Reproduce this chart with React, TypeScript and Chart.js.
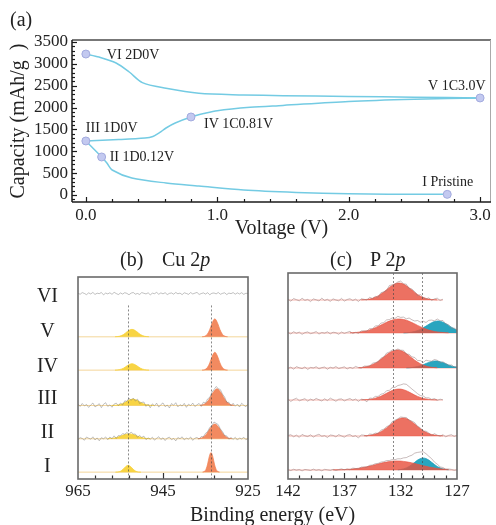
import { useEffect, useRef } from "react";
import { Chart, registerables } from "chart.js";

Chart.register(...registerables);

const SERIF = "'Liberation Serif', 'Times New Roman', Times, serif";
const INK = "#222";

/* ---------- (a) capacity against voltage ---------- */
const firstDischarge: [number, number][] = [
  [2.75, 15], [2.3, 20], [2.0, 28], [1.6, 60], [1.2, 115], [0.86, 206], [0.61, 275],
  [0.35, 389], [0.2, 572], [0.16, 732], [0.12, 870], [0, 1236],
];
const firstCharge: [number, number][] = [
  [0, 1236], [0.25, 1268], [0.45, 1305], [0.51, 1340], [0.56, 1425], [0.61, 1533], [0.68, 1647],
  [0.8, 1785], [0.9, 1865], [1.0, 1930], [1.25, 2005], [1.5, 2050], [2.0, 2140], [2.5, 2190], [3.0, 2220],
];
const secondDischarge: [number, number][] = [
  [3.0, 2220], [2.5, 2238], [2.0, 2255], [1.5, 2272], [1.2, 2290], [0.86, 2326], [0.61, 2441],
  [0.43, 2570], [0.33, 2814], [0.23, 3020], [0.1, 3157], [0, 3225],
];
const stateNames = ["I Pristine", "II 1D0.12V", "III 1D0V", "IV 1C0.81V", "V 1C3.0V", "VI 2D0V"];
const stateVoltage = [2.75, 0.12, 0, 0.8, 3.0, 0];
const stateCapacity = [15, 870, 1236, 1785, 2220, 3225];
const voltageTicks = [0, 1, 2, 3];
const capacityTicks = [0, 500, 1000, 1500, 2000, 2500, 3000, 3500];

/* ---------- (b) Cu 2p spectra, stacked with offsets (a.u.) ---------- */
const cuRowNames = ["VI", "V", "IV", "III", "II", "I"];
const cuOffset = [189, 145, 111, 75, 41, 7];
const cuEnergyTicks = [965, 945, 925];
const cuGuides = [953.2, 933.7];
const CU_START = 965;
const CU_STEP = 0.5;
const cuRawVI = [
  0.4, -0.6, 1.1, 0.2, -1.0, 0.8, -0.3, 1.3, -0.8, 0.5, 0.0, 1.2, -1.2, 0.6, -0.2, 0.9, -0.7, 1.4, 0.1, -0.9,
  0.7, -0.4, 1.0, 0.3, -1.1, 0.6, 1.2, -0.5, 0.2, -0.8, 1.1, 0.4, -0.3, 0.9, -1.2, 0.5, 0.0, 1.3, -0.6, 0.8,
  -0.2, 1.0, -0.9, 0.3, 0.7, -0.5, 1.2, -0.1, 0.6, -1.0, 0.9, 0.2, -0.7, 1.1, -0.3, 0.5, 1.3, -0.8, 0.1, 0.8,
  -0.4, 1.0, -1.1, 0.4, 0.7, -0.2, 1.2, -0.6, 0.3, 0.9, -0.9, 0.6, 0.0, 1.1, -0.5, 0.8, -0.3, 1.0, -0.7, 0.4, 0.2,
];
const cuRawIII = [
  1.5, -1.0, 2.0, -0.5, 1.0, -2.0, 0.5, 2.5, -1.5, 0.0, 1.8, -2.2, 1.2, 2.8, -1.0, 0.6, -1.8, 1.4, 2.4, -0.3,
  2.5, 0.5, 4.7, 4.2, 7.4, 5.2, 7.5, 4.5, 6.4, 2.0, 3.1, 3.5, -0.9, 1.3, -2.3, 1.6, -0.4, 2.3, -1.7, 0.9,
  2.6, -1.2, 0.4, -2.5, 1.9, 0.2, 2.8, -1.4, 0.8, -0.6, 2.1, -1.9, 1.3, -0.2, 2.4, -1.1, 0.7, 2.0, -1.0, 3.3,
  2.4, 6.7, 8.2, 13.3, 16.1, 19.3, 17.2, 16.1, 11.5, 8.6, 3.2, 3.2, -0.5, 2.2, -0.8, 1.4, -1.6, 2.2, 0.3, -1.3, 1.7,
];
const cuRawII = [
  -0.8, 1.2, 0.3, -1.5, 1.8, 0.6, -0.4, 2.0, -1.2, 0.9, -2.0, 1.1, 0.0, 1.9, -0.9, 1.8, 0.1, 3.0, 0.3, 3.3,
  2.9, 5.3, 4.6, 6.5, 4.6, 6.9, 4.8, 4.8, 1.6, 3.4, 1.4, 2.7, -0.9, 1.0, -0.4, 1.6, -1.4, 0.5, 2.1, -0.7,
  1.0, -1.8, 0.8, 1.7, -0.9, 0.4, -2.1, 1.3, 0.1, 2.0, -1.1, 0.7, -0.3, 1.8, -1.6, 0.6, 1.4, -0.5, 2.3, 2.1,
  5.6, 7.3, 11.6, 13.7, 17.1, 15.8, 14.4, 10.0, 7.3, 3.4, 2.9, -0.4, 1.3, -0.6, 1.5, -1.3, 0.9, -0.2, 1.6, -0.9, 0.4,
];
// fitted Cu 2p1/2 components
const cuHalfE_V = [956.3, 955.3, 954.3, 953.3, 952.3, 951.3, 950.3, 949.3, 948.3];
const cuHalfI_V = [0.1, 0.5, 2.3, 5.7, 7.6, 5.7, 2.3, 0.5, 0.1];
const cuHalfE_IV = [956.3, 955.3, 954.3, 953.3, 952.3, 951.3, 950.3, 949.3, 948.3];
const cuHalfI_IV = [0.1, 0.5, 2.0, 4.9, 6.6, 4.9, 2.0, 0.5, 0.1];
const cuHalfE_III = [957.1, 956.1, 955.1, 954.1, 953.1, 952.1, 951.1, 950.1, 949.1, 948.1, 947.1];
const cuHalfI_III = [0, 0.2, 0.9, 2.7, 5.2, 6.5, 5.2, 2.7, 0.9, 0.2, 0];
const cuHalfE_II = [958, 957, 956, 955, 954, 953, 952, 951, 950, 949, 948];
const cuHalfI_II = [0.1, 0.4, 1.2, 2.7, 4.3, 5.0, 4.3, 2.7, 1.2, 0.4, 0.1];
const cuHalfE_I = [956.2, 955.6, 955.0, 954.4, 953.8, 953.2, 952.6, 952.0, 951.4, 950.8, 950.2];
const cuHalfI_I = [0.03, 0.2, 0.95, 2.9, 5.6, 7.0, 5.6, 2.9, 0.95, 0.2, 0.03];
// fitted Cu 2p3/2 components
const cuMainE_V = [935.8, 935.2, 934.6, 934.0, 933.4, 932.8, 932.2, 931.6, 931.0, 930.4, 929.8];
const cuMainI_V = [0.1, 0.5, 2.4, 7.4, 14.4, 18.3, 14.4, 7.4, 2.4, 0.5, 0.1];
const cuMainE_IV = [935.8, 935.2, 934.6, 934.0, 933.4, 932.8, 932.2, 931.6, 931.0, 930.4, 929.8];
const cuMainI_IV = [0.1, 0.5, 2.4, 7.4, 14.4, 18.3, 14.4, 7.4, 2.4, 0.5, 0.1];
const cuMainE_III = [936.3, 935.3, 934.3, 933.3, 932.3, 931.3, 930.3, 929.3, 928.3];
const cuMainI_III = [0.15, 1.2, 5.2, 12.6, 17.0, 12.6, 5.2, 1.2, 0.15];
const cuMainE_II = [936.8, 935.8, 934.8, 933.8, 932.8, 931.8, 930.8, 929.8, 928.8];
const cuMainI_II = [0.13, 1.0, 4.6, 11.2, 15.0, 11.2, 4.6, 1.0, 0.13];
const cuMainE_I = [935.7, 935.3, 934.9, 934.5, 934.1, 933.7, 933.3, 932.9, 932.5, 932.1, 931.7];
const cuMainI_I = [0.1, 0.6, 2.7, 8.2, 16.0, 20.0, 16.0, 8.2, 2.7, 0.6, 0.1];

/* ---------- (c) P 2p spectra, stacked with offsets (a.u.) ---------- */
const pRowNames = ["VI", "V", "IV", "III", "II", "I"];
const pOffset = [179, 146, 111, 79, 43, 9];
const pEnergyTicks = [142, 137, 132, 127];
const pGuides = [132.7, 130.1];
const P_START = 142;
const P_STEP = 0.25;
// residual of the measured curve around the fitted envelope
const pResidVI = [
  0.8, -1.2, 1.5, 0.3, -0.9, 1.8, -0.4, 0.6, -1.6, 1.1, 0.2, -1.0, 1.9, -0.5, 0.7, -1.4, 1.2, 0.0, -0.8, 1.6,
  -1.1, 0.5, 1.3, -0.6, 0.9, -1.5, 1.0, 0.4, -0.7, 1.7, -0.2, 0.8, -1.3, 1.4, 0.1, -0.9, 1.9, 0.6, -0.4, 1.2,
  2.1, 0.3, 1.5, -0.8, 1.1, 0.7, -1.2, 1.6, 0.2, -0.6, 1.3, -1.0, 0.9, 1.7, -0.5, 0.8,
];
const pResidV = [
  0.6, -1.0, 1.3, -0.3, 0.9, -1.4, 0.4, 1.1, -0.7, 0.2, 1.5, -1.1, 0.5, -0.2, 1.2, -0.9, 0.8, 0.3, -1.3, 1.0,
  -0.4, 0.7, 1.4, -0.8, 0.2, -1.2, 0.9, 0.5, -0.6, 1.3, 0.1, 1.8, 0.6, 2.0, 1.1, 2.4, 1.5, 2.2, 1.0, 2.6,
  1.7, 2.3, 1.2, 2.8, 1.9, 1.4, 2.5, 0.9, 1.6, -0.3, 1.1, 0.4, -0.8, 0.9, -0.2, 1.2, -0.6, 0.5, -1.0, 0.7, 0.2,
];
const pResidIV = [
  -0.5, 0.9, -1.2, 1.4, 0.2, -0.7, 1.1, -1.5, 0.6, 0.0, 1.3, -0.9, 0.4, 1.0, -1.3, 0.8, -0.2, 1.5, -0.6, 0.3,
  1.2, -1.0, 0.7, -0.4, 1.6, 0.1, -0.8, 1.0, 0.5, -0.3, 1.4, 0.6, -0.5, 1.1, 0.3, 1.7, 0.8, 1.3, -0.2, 1.0,
  0.4, 1.5, -0.6, 1.2, 0.7, 1.8, 0.2, 0.9, -0.7, 1.4, 0.3, -0.4, 1.1, 0.6, -0.9, 0.8, 0.2, -0.5, 1.0, -0.3, 0.4,
];
const pResidIII = [
  1.0, -1.5, 0.6, 1.8, -0.8, 0.3, 1.4, -1.2, 0.9, -0.4, 1.6, 0.2, -1.0, 1.2, -0.6, 1.9, 0.4, -1.3, 0.8, 1.1,
  -0.9, 0.5, 1.5, -0.3, 1.0, -1.4, 0.7, 0.2, -2.2, 1.3, 0.5, 1.8, 0.9, 2.0, 1.2, 2.6, 1.5, 2.9, 2.1, 3.6,
  4.2, 5.8, 6.4, 5.5, 4.6, 3.8, 2.7, 1.9, 2.4, 1.1, 1.6, 0.3, 1.2, -0.4, 0.8, 0.2,
];
const pResidII = [
  0.5, 1.3, -0.8, 0.9, -1.4, 1.6, 0.2, -0.6, 1.2, -1.1, 0.7, 1.8, -0.3, 0.4, -1.5, 1.0, 0.6, -0.9, 1.4, 0.1,
  -1.2, 0.8, 1.5, -0.5, 0.3, -2.0, 1.1, 0.6, -0.7, 1.3, 0.4, 1.0, -0.4, 1.5, 0.8, 1.2, 0.2, 1.6, 0.9, 0.5,
  1.3, 0.6, 1.1, -0.3, 0.8, 1.4, 0.2, 0.9, -0.6, 1.2, 0.5, -1.0, 1.4, 0.3, -0.5, 1.1, -0.8, 0.6, 1.3, -0.4, 0.7,
];
const pResidI = [
  0.3, -0.6, 0.8, -0.2, 0.5, -0.9, 0.6, 0.1, -0.5, 0.9, -0.3, 0.4, -0.8, 0.7, 0.2, -0.4, 0.6, -0.7, 0.3, 0.8,
  -0.2, 0.5, -0.6, 0.9, 0.1, -0.4, 0.7, 0.3, -0.5, 0.8, 0.4, 1.0, 0.6, 1.2, 0.9, 1.5, 1.1, 1.6, 1.4, 2.0,
  1.8, 2.4, 2.1, 2.6, 2.2, 2.7, 2.0, 1.6, 1.9, 1.2, 0.8, 1.1, 0.4, 0.7, -0.2, 0.5, -0.4, 0.3, 0.6, -0.3, 0.2,
];
// fitted components: first energy (eV) and intensities on the 0.25 eV grid
const pRedStart = [135.5, 136.5, 135.75, 135.5, 135.25, 138.0];
const pRedVI = [0.2, 0.3, 0.6, 1.0, 1.7, 2.8, 4.1, 5.9, 8.0, 10.3, 12.6, 14.6, 16.2, 16.9, 16.8, 15.9, 14.3, 12.2, 9.9, 7.6, 5.5, 3.8, 2.5, 1.6, 0.9, 0.5, 0.3, 0.1];
const pRedV = [0.2, 0.3, 0.5, 0.8, 1.2, 1.7, 2.3, 3.1, 4.1, 5.3, 6.6, 7.9, 9.3, 10.7, 11.9, 12.9, 13.6, 14.0, 13.9, 13.5, 12.8, 11.7, 10.4, 9.1, 7.6, 6.3, 5.0, 3.9, 2.9, 2.2, 1.5, 1.1, 0.7, 0.5, 0.3, 0.2];
const pRedIV = [0.3, 0.5, 0.9, 1.4, 2.2, 3.4, 4.8, 6.6, 8.7, 10.9, 13.2, 15.2, 16.8, 17.7, 18.0, 17.4, 16.2, 14.4, 12.3, 10.0, 7.8, 5.9, 4.2, 2.9, 1.9, 1.2, 0.7, 0.4, 0.2];
const pRedIII = [0.1, 0.2, 0.4, 0.7, 1.1, 1.8, 2.7, 3.8, 5.2, 6.7, 8.2, 9.5, 10.5, 10.9, 10.9, 10.3, 9.3, 7.9, 6.4, 4.9, 3.6, 2.5, 1.6, 1.0, 0.6, 0.3, 0.2, 0.1];
const pRedII = [0.2, 0.4, 0.7, 1.2, 1.9, 2.9, 4.3, 6.0, 8.1, 10.4, 12.8, 15.0, 16.7, 17.7, 18.0, 17.4, 16.1, 14.1, 11.9, 9.5, 7.3, 5.3, 3.7, 2.4, 1.5, 0.9, 0.5, 0.3, 0.2];
const pRedI = [0.1, 0.2, 0.2, 0.3, 0.4, 0.6, 0.8, 1.0, 1.4, 1.7, 2.2, 2.7, 3.3, 3.9, 4.6, 5.3, 6.0, 6.7, 7.4, 7.9, 8.4, 8.8, 9.0, 9.0, 8.9, 8.6, 8.2, 7.7, 7.1, 6.5, 5.7, 5.0, 4.3, 3.7, 3.0, 2.5, 2.0, 1.6, 1.2, 0.9, 0.7, 0.5];
const pBlueStartV = 131.75;
const pBlueV = [0.1, 0.2, 0.5, 0.9, 1.5, 2.4, 3.6, 5.2, 6.9, 8.7, 10.3, 11.5, 12.0, 11.8, 10.8, 9.4, 7.6, 5.8, 4.2, 2.8];
const pBlueStartIV = 131.5;
const pBlueIV = [0.1, 0.2, 0.5, 0.9, 1.4, 2.3, 3.3, 4.5, 5.6, 6.5, 7.0, 6.9, 6.3, 5.4, 4.3, 3.1, 2.1, 1.3, 0.8];
const pBlueStartI = 132.25;
const pBlueI = [0.2, 0.5, 1.1, 2.1, 3.5, 5.5, 7.7, 9.9, 11.4, 12.0, 11.4, 9.9, 7.7, 5.5, 3.5, 2.1, 1.1, 0.5, 0.2];

/* ---------- styling ---------- */
const CAP_LINE = "#74cbe3";
const CU_YELLOW = "rgba(247, 208, 52, 0.92)";
const CU_ORANGE = "rgba(241, 128, 82, 0.92)";
const CU_BASE = "rgba(240, 200, 120, 0.75)";
const P_RED = "rgba(232, 82, 64, 0.82)";
const P_BLUE = "rgba(30, 160, 188, 0.95)";
const P_BASE = "rgba(238, 130, 118, 0.6)";
const RAW = "rgba(125, 125, 125, 0.6)";
const P_RAW = "rgba(150, 125, 125, 0.65)";
const STATE_LABEL_SHIFT: [number, number][] = [[-25, -8], [8, 4], [0, -9], [13, 11], [-52, -8], [21, 5]];
const CU_LABEL_AT = [186, 150, 114, 82, 47, 12];

type Pt = { x: number; y: number };
const toPts = (p: [number, number][]): Pt[] => p.map(([x, y]) => ({ x, y }));

function fixedTicks(values: number[]) {
  return (scale: any) => {
    scale.ticks = values.map((value) => ({ value }));
  };
}

function hLine(ctx: CanvasRenderingContext2D, x1: number, y1: number, x2: number, y2: number) {
  ctx.beginPath();
  ctx.moveTo(x1, y1);
  ctx.lineTo(x2, y2);
  ctx.stroke();
}

/* ---------- (a) chart ---------- */
function makeCapacityChart(canvas: HTMLCanvasElement) {
  const frame = {
    id: "capacityFrame",
    afterDatasetsDraw(chart: any) {
      const { ctx, chartArea: a, scales } = chart;
      const xs = scales.x;
      const ys = scales.y;
      ctx.save();
      // top and right border
      ctx.strokeStyle = "#777";
      ctx.lineWidth = 2;
      hLine(ctx, a.left, a.top, a.right, a.top);
      ctx.strokeStyle = "#aaa";
      ctx.lineWidth = 1;
      hLine(ctx, a.right - 0.5, a.top, a.right - 0.5, a.bottom);
      // axes
      ctx.strokeStyle = "#1a1a1a";
      ctx.lineWidth = 1.5;
      hLine(ctx, a.left, a.top, a.left, a.bottom);
      hLine(ctx, a.left, a.bottom, a.right, a.bottom);
      // inward ticks
      ctx.lineWidth = 1.2;
      for (let k = 0; k <= 15; k++) {
        const v = k * 0.2;
        const major = k % 5 === 0;
        const px = Math.round(xs.getPixelForValue(v)) + 0.5;
        hLine(ctx, px, a.bottom, px, a.bottom - (major ? 5 : 3));
      }
      for (let k = -1; k <= 35; k++) {
        const v = k * 100;
        const major = k % 5 === 0;
        const py = Math.round(ys.getPixelForValue(v)) + 0.5;
        hLine(ctx, a.left, py, a.left + (major ? 5 : 3), py);
      }
      // state labels
      ctx.fillStyle = INK;
      ctx.font = `14px ${SERIF}`;
      ctx.textAlign = "left";
      ctx.textBaseline = "alphabetic";
      stateNames.forEach((name, i) => {
        const px = xs.getPixelForValue(stateVoltage[i]);
        const py = ys.getPixelForValue(stateCapacity[i]);
        ctx.fillText(name, px + STATE_LABEL_SHIFT[i][0], py + STATE_LABEL_SHIFT[i][1]);
      });
      ctx.restore();
    },
  };

  const curve = (pts: [number, number][]) => ({
    data: toPts(pts),
    borderColor: CAP_LINE,
    borderWidth: 1.5,
    pointRadius: 0,
    tension: 0.3,
    fill: false,
    order: 2,
  });

  return new Chart(canvas, {
    type: "line",
    data: {
      datasets: [
        curve(firstDischarge),
        curve(firstCharge),
        curve(secondDischarge),
        {
          data: stateVoltage.map((x, i) => ({ x, y: stateCapacity[i] })),
          showLine: false,
          pointRadius: 4,
          pointBackgroundColor: "#c3c9f0",
          pointBorderColor: "#a2aade",
          pointBorderWidth: 1,
          order: 1,
        } as any,
      ],
    },
    options: {
      animation: false,
      responsive: false,
      events: [],
      layout: { padding: { top: 40, right: 1, left: 0, bottom: 0 } },
      plugins: { legend: { display: false }, tooltip: { enabled: false } },
      scales: {
        x: {
          type: "linear",
          min: -0.1055,
          max: 3.083,
          afterBuildTicks: fixedTicks(voltageTicks),
          afterFit: (s: any) => {
            s.height = 48;
          },
          grid: { display: false, drawTicks: false },
          border: { display: false },
          ticks: {
            autoSkip: false,
            maxRotation: 0,
            padding: 3,
            color: INK,
            font: { family: SERIF, size: 17 },
            callback: (v: any) => Number(v).toFixed(1),
          },
          title: {
            display: true,
            text: "Voltage (V)",
            color: INK,
            font: { family: SERIF, size: 20 },
            padding: { top: 0, bottom: 9 },
          },
        },
        y: {
          type: "linear",
          min: -160,
          max: 3546,
          afterBuildTicks: fixedTicks(capacityTicks),
          afterFit: (s: any) => {
            s.width = 72;
          },
          grid: { display: false, drawTicks: false },
          border: { display: false },
          ticks: {
            autoSkip: false,
            padding: 4,
            color: INK,
            font: { family: SERIF, size: 17 },
            callback: (v: any) => String(v),
          },
          title: {
            display: true,
            text: "Capacity (mAh/g  )",
            color: INK,
            font: { family: SERIF, size: 20 },
            padding: { top: 7, bottom: 0 },
          },
        },
      },
    } as any,
    plugins: [frame],
  });
}

/* ---------- shared frame for the spectra panels ---------- */
function spectrumFrame(id: string, majors: number[], lo: number, hi: number, step: number, guides: number[], guideTop: number | null) {
  return {
    id,
    afterDatasetsDraw(chart: any) {
      const { ctx, chartArea: a, scales } = chart;
      const xs = scales.x;
      const ys = scales.y;
      ctx.save();
      ctx.strokeStyle = "rgba(70, 70, 70, 0.8)";
      ctx.lineWidth = 0.8;
      ctx.setLineDash([2, 2]);
      const top = guideTop == null ? a.top : ys.getPixelForValue(guideTop);
      guides.forEach((g) => {
        const px = Math.round(xs.getPixelForValue(g)) + 0.5;
        hLine(ctx, px, top, px, a.bottom);
      });
      ctx.setLineDash([]);
      ctx.strokeStyle = "#333";
      ctx.lineWidth = 1.2;
      const n = Math.round((hi - lo) / step);
      for (let k = 1; k < n; k++) {
        const v = lo + k * step;
        const major = majors.some((m) => Math.abs(m - v) < 1e-6);
        const px = Math.round(xs.getPixelForValue(v)) + 0.5;
        hLine(ctx, px, a.bottom, px, a.bottom - (major ? 6 : 3.5));
      }
      ctx.strokeStyle = "#6a6a6a";
      ctx.lineWidth = 1.6;
      ctx.strokeRect(a.left, a.top, a.width, a.height);
      ctx.restore();
    },
  };
}

function fillDataset(pts: Pt[], base: number, color: string, order: number) {
  return {
    data: pts,
    borderColor: color,
    backgroundColor: color,
    borderWidth: 0.8,
    pointRadius: 0,
    tension: 0.35,
    fill: { value: base },
    order,
  };
}

function lineDataset(pts: Pt[], color: string, width: number, order: number) {
  return {
    data: pts,
    borderColor: color,
    borderWidth: width,
    pointRadius: 0,
    tension: 0,
    fill: false,
    order,
  };
}

function spectrumOptions(lo: number, hi: number, ticks: number[], padding: any, yAxis: any) {
  return {
    animation: false,
    responsive: false,
    events: [],
    layout: { padding },
    plugins: { legend: { display: false }, tooltip: { enabled: false } },
    scales: {
      x: {
        type: "linear",
        min: lo,
        max: hi,
        reverse: true,
        afterBuildTicks: fixedTicks(ticks),
        afterFit: (s: any) => {
          s.height = 46;
        },
        grid: { display: false, drawTicks: false },
        border: { display: false },
        ticks: {
          autoSkip: false,
          maxRotation: 0,
          padding: 2,
          color: INK,
          font: { family: SERIF, size: 17 },
          callback: (v: any) => String(v),
        },
      },
      y: yAxis,
    },
  } as any;
}

/* ---------- (b) chart ---------- */
function makeCuChart(canvas: HTMLCanvasElement) {
  const gridPts = (vals: number[], base: number): Pt[] =>
    vals.map((v, i) => ({ x: CU_START - CU_STEP * i, y: base + v }));
  const fitPts = (e: number[], v: number[], base: number): Pt[] => e.map((x, i) => ({ x, y: base + v[i] }));

  const halfFits = [null, [cuHalfE_V, cuHalfI_V], [cuHalfE_IV, cuHalfI_IV], [cuHalfE_III, cuHalfI_III], [cuHalfE_II, cuHalfI_II], [cuHalfE_I, cuHalfI_I]];
  const mainFits = [null, [cuMainE_V, cuMainI_V], [cuMainE_IV, cuMainI_IV], [cuMainE_III, cuMainI_III], [cuMainE_II, cuMainI_II], [cuMainE_I, cuMainI_I]];
  const raws: (number[] | null)[] = [cuRawVI, null, null, cuRawIII, cuRawII, null];

  const datasets: any[] = [];
  cuRowNames.forEach((_, r) => {
    const base = cuOffset[r];
    if (r > 0) {
      datasets.push(lineDataset([{ x: 965, y: base }, { x: 925, y: base }], CU_BASE, 1, 5));
    }
    const h = halfFits[r];
    if (h) datasets.push(fillDataset(fitPts(h[0], h[1], base), base, CU_YELLOW, 3));
    const m = mainFits[r];
    if (m) datasets.push(fillDataset(fitPts(m[0], m[1], base), base, CU_ORANGE, 3));
    const raw = raws[r];
    if (raw) datasets.push(lineDataset(gridPts(raw, base), RAW, 0.8, 1));
  });

  const yAxis = {
    type: "linear",
    min: 0,
    max: 206,
    afterBuildTicks: fixedTicks(CU_LABEL_AT),
    afterFit: (s: any) => {
      s.width = 78;
    },
    grid: { display: false, drawTicks: false },
    border: { display: false },
    ticks: {
      autoSkip: false,
      crossAlign: "center",
      padding: 20,
      color: INK,
      font: { family: SERIF, size: 20 },
      callback: (_v: any, i: number) => cuRowNames[i],
    },
  };

  return new Chart(canvas, {
    type: "line",
    data: { datasets },
    options: spectrumOptions(925, 965, cuEnergyTicks, { top: 28, right: 22, left: 0, bottom: 0 }, yAxis),
    plugins: [spectrumFrame("cuFrame", cuEnergyTicks, 925, 965, 4, cuGuides, 177)],
  });
}

/* ---------- (c) chart ---------- */
function makePChart(canvas: HTMLCanvasElement) {
  const resids = [pResidVI, pResidV, pResidIV, pResidIII, pResidII, pResidI];
  const reds = [pRedVI, pRedV, pRedIV, pRedIII, pRedII, pRedI];
  const blues: ([number, number[]] | null)[] = [null, [pBlueStartV, pBlueV], [pBlueStartIV, pBlueIV], null, null, [pBlueStartI, pBlueI]];

  const compPts = (start: number, vals: number[], base: number): Pt[] =>
    vals.map((v, i) => ({ x: start - P_STEP * i, y: base + v }));

  const datasets: any[] = [];
  pRowNames.forEach((_, r) => {
    const base = pOffset[r];
    const comps: [number, number[]][] = [[pRedStart[r], reds[r]]];
    const b = blues[r];
    if (b) comps.push(b);
    // measured curve = fitted envelope + residual
    const measured = resids[r].map((res, i) => {
      const e = P_START - P_STEP * i;
      let s = res;
      comps.forEach(([start, vals]) => {
        const k = Math.round((start - e) / P_STEP);
        if (k >= 0 && k < vals.length) s += vals[k];
      });
      return { x: e, y: base + s };
    });
    const lastE = measured[measured.length - 1].x;
    datasets.push(lineDataset([{ x: P_START, y: base }, { x: lastE, y: base }], P_BASE, 1, 6));
    if (b) datasets.push(fillDataset(compPts(b[0], b[1], base), base, P_BLUE, 4));
    datasets.push(fillDataset(compPts(pRedStart[r], reds[r], base), base, P_RED, 3));
    datasets.push(lineDataset(measured, P_RAW, 0.8, 1));
  });

  const yAxis = { type: "linear", min: 0, max: 206, display: false };

  return new Chart(canvas, {
    type: "line",
    data: { datasets },
    options: spectrumOptions(127, 142, pEnergyTicks, { top: 28, right: 39, left: 26, bottom: 0 }, yAxis),
    plugins: [spectrumFrame("pFrame", pEnergyTicks, 127, 142, 1, pGuides, null)],
  });
}

const textStyle = (left: number, top: number): any => ({
  position: "absolute",
  left,
  top,
  fontSize: 20,
  lineHeight: "20px",
  whiteSpace: "pre",
  fontFamily: SERIF,
  color: INK,
});

export default function App() {
  const aRef = useRef<HTMLCanvasElement>(null);
  const bRef = useRef<HTMLCanvasElement>(null);
  const cRef = useRef<HTMLCanvasElement>(null);

  useEffect(() => {
    const charts = [
      makeCapacityChart(aRef.current!),
      makeCuChart(bRef.current!),
      makePChart(cRef.current!),
    ];
    return () => charts.forEach((c) => c.destroy());
  }, []);

  return (
    <div style={{ position: "absolute", left: 0, top: 0, width: 496, height: 525, background: "#fff", overflow: "hidden" }}>
      <canvas ref={aRef} width={496} height={250} style={{ position: "absolute", left: 0, top: 0, width: 496, height: 250 }} />
      <canvas ref={bRef} width={270} height={280} style={{ position: "absolute", left: 0, top: 245, width: 270, height: 280 }} />
      <canvas ref={cRef} width={234} height={280} style={{ position: "absolute", left: 262, top: 245, width: 234, height: 280 }} />
      <div style={textStyle(10, 9)}>(a)</div>
      <div style={textStyle(120, 249)}>(b)</div>
      <div style={textStyle(162, 249)}>
        Cu 2<i>p</i>
      </div>
      <div style={textStyle(330, 249)}>(c)</div>
      <div style={textStyle(370, 249)}>
        P 2<i>p</i>
      </div>
      <div style={textStyle(190, 504)}>Binding energy (eV)</div>
    </div>
  );
}
